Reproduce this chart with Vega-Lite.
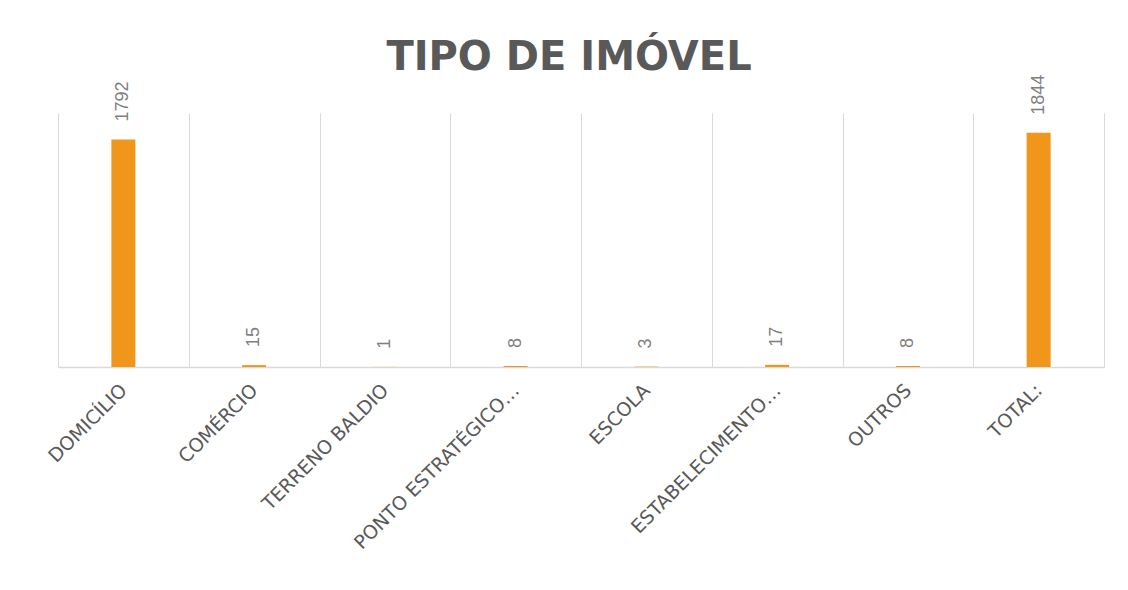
{
  "$schema": "https://vega.github.io/schema/vega-lite/v6.json",
  "width": 1046,
  "height": 254,
  "autosize": {"type": "none"},
  "padding": {"left": 58, "top": 113, "right": 24, "bottom": 223},
  "background": "white",
  "title": {
    "text": "TIPO DE IMÓVEL",
    "font": "DejaVu Sans",
    "fontSize": 40,
    "fontWeight": "bold",
    "color": "#595959",
    "anchor": "middle",
    "offset": -3,
    "dx": -12
  },
  "data": {
    "values": [
      {"tipo": "DOMICÍLIO", "valor": 1792},
      {"tipo": "COMÉRCIO", "valor": 15},
      {"tipo": "TERRENO BALDIO", "valor": 1},
      {"tipo": "PONTO ESTRATÉGICO…", "valor": 8},
      {"tipo": "ESCOLA", "valor": 3},
      {"tipo": "ESTABELECIMENTO…", "valor": 17},
      {"tipo": "OUTROS", "valor": 8},
      {"tipo": "TOTAL:", "valor": 1844}
    ]
  },
  "encoding": {
    "x": {
      "field": "tipo",
      "type": "nominal",
      "sort": null,
      "scale": {"paddingInner": 0, "paddingOuter": 0},
      "axis": {
        "title": null,
        "labelAngle": -45,
        "labelAlign": "right",
        "labelBaseline": "middle",
        "labelPadding": 20,
        "labelFont": "DejaVu Sans",
        "labelFontSize": 19,
        "labelColor": "#595959",
        "labelLimit": 0,
        "tickBand": "extent",
        "ticks": false,
        "grid": true,
        "gridColor": "#d9d9d9",
        "gridWidth": 1,
        "domainColor": "#d9d9d9",
        "domainWidth": 1.5
      }
    },
    "y": {
      "field": "valor",
      "type": "quantitative",
      "scale": {"domain": [0, 2000], "nice": false},
      "axis": null
    }
  },
  "layer": [
    {"mark": {"type": "bar", "width": 24, "color": "#f0961b"}},
    {
      "mark": {
        "type": "text",
        "angle": 270,
        "align": "left",
        "baseline": "middle",
        "dx": 18,
        "font": "Liberation Sans",
        "fontSize": 18,
        "color": "#7f7f7f"
      },
      "encoding": {"text": {"field": "valor", "type": "quantitative"}}
    }
  ],
  "config": {"view": {"stroke": null}}
}
